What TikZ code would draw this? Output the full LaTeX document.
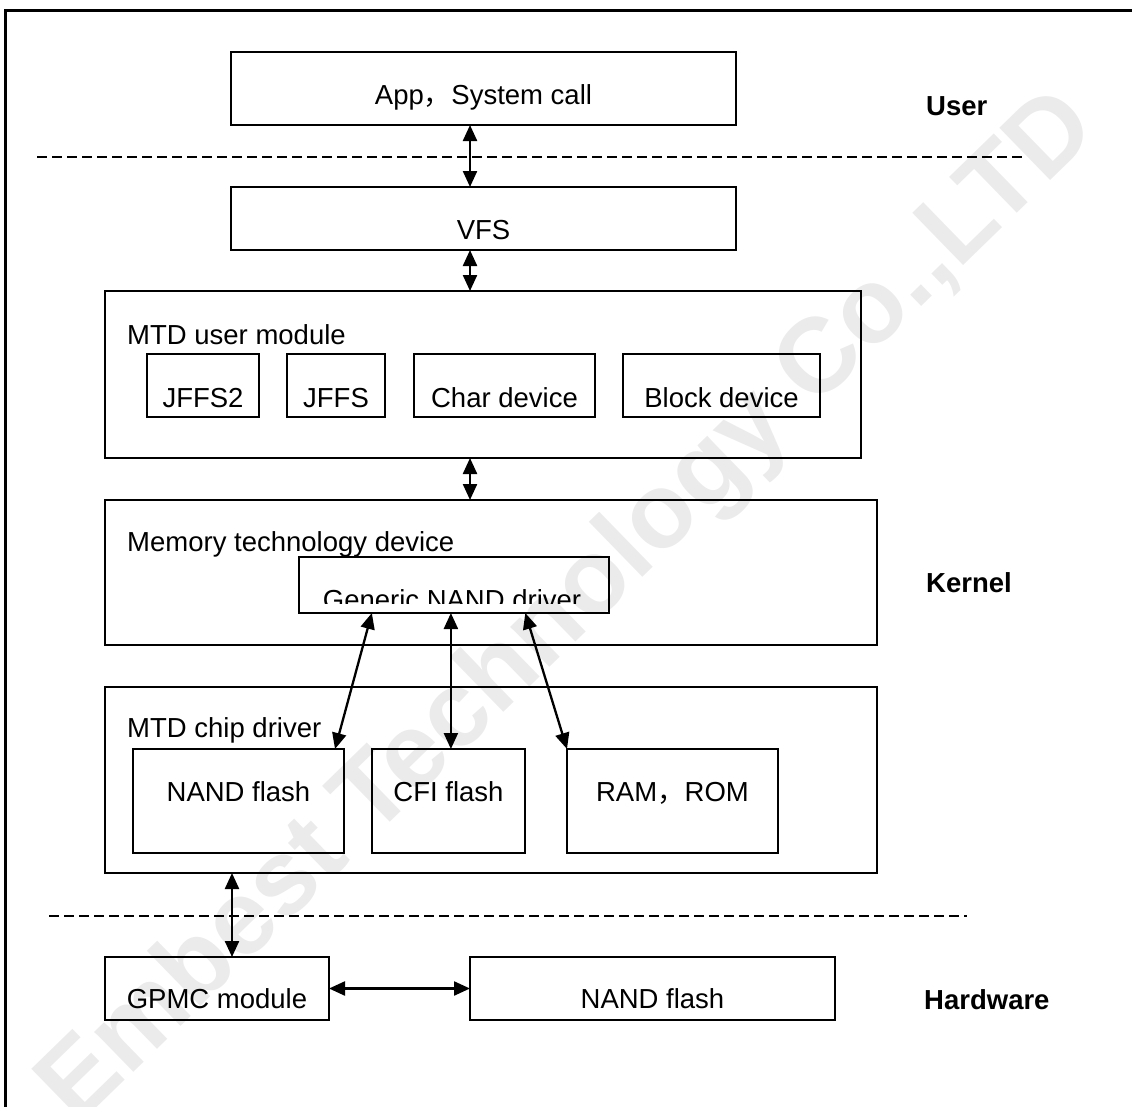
\documentclass[tikz,border=0pt]{standalone}
\usepackage{fontspec}
\setmainfont{Liberation Sans}
\newfontfamily\cjkfont{Noto Sans CJK SC}
\usetikzlibrary{arrows.meta,calc}

\tikzset{
  box/.style={draw, line width=2.2pt, rectangle, inner sep=0pt, outer sep=0pt, anchor=north west},
  lbl/.style={inner sep=0pt, anchor=base, font=\fontsize{27.5}{33}\selectfont},
  lblw/.style={lbl, anchor=base west},
  layer/.style={inner sep=0pt, anchor=base west, font=\fontsize{27.5}{33}\selectfont\bfseries},
  link/.style={line width=2.3pt, {Triangle[length=16pt,width=14pt]}-{Triangle[length=16pt,width=14pt]}},
  sep/.style={line width=2pt, dash pattern=on 10pt off 5pt},
  wmark/.style={inner sep=0pt, text=black!8, font=\fontsize{106}{120}\selectfont\bfseries},
}

\begin{document}
\begin{tikzpicture}[x=1pt,y=-1pt]
\useasboundingbox (0,0) rectangle (1132,1106);

% faint company watermark behind everything
\node[wmark, rotate=44.2] (wm) at (570,610) {Embest Technology Co.,LTD};

% page frame (top and left edges)
\draw[line width=3pt] (1140,10) -- (5,10) -- (5,1115);

% user space
\node[box, minimum width=505pt, minimum height=73pt] (app) at (231,52) {};
\node[lbl] (appT) at (483.5,104) {App{\cjkfont ，}System call};
\node[layer] (userT) at (926,115) {User};

\draw[sep] (37,157) -- (1025,157);

% VFS
\node[box, minimum width=505pt, minimum height=63pt] (vfs) at (231,187) {};
\node[lbl] (vfsT) at (483.5,239) {VFS};

% MTD user module
\node[box, minimum width=756pt, minimum height=167pt] (mtdu) at (105,291) {};
\node[lblw] (mtduT) at (127,344) {MTD user module};
\node[box, minimum width=112pt, minimum height=63pt] (jffs2) at (147,354) {};
\node[box, minimum width=98pt,  minimum height=63pt] (jffs)  at (287,354) {};
\node[box, minimum width=181pt, minimum height=63pt] (chr)   at (414,354) {};
\node[box, minimum width=197pt, minimum height=63pt] (blk)   at (623,354) {};
\node[lbl] (jffs2T) at (203,407) {JFFS2};
\node[lbl] (jffsT)  at (336,407) {JFFS};
\node[lbl] (chrT)   at (504.5,407) {Char device};
\node[lbl] (blkT)   at (721.5,407) {Block device};

% memory technology device
\node[box, minimum width=772pt, minimum height=145pt] (mem) at (105,500) {};
\node[lblw] (memT) at (127,551) {Memory technology device};
\node[box, minimum width=310pt, minimum height=56pt] (gnd) at (299,557) {};
\begin{scope}
  \clip (gnd.north west) rectangle ([yshift=10pt]gnd.south east);
  \node[lbl] (gndT) at (452,609) {Generic NAND driver};
\end{scope}
\node[layer] (kernelT) at (926,592) {Kernel};

% MTD chip driver
\node[box, minimum width=772pt, minimum height=186pt] (chip) at (105,687) {};
\node[lblw] (chipT) at (127,737) {MTD chip driver};
\node[box, minimum width=211pt, minimum height=104pt] (nand) at (133,749) {};
\node[box, minimum width=153pt, minimum height=104pt] (cfi)  at (372,749) {};
\node[box, minimum width=211pt, minimum height=104pt] (ram)  at (567,749) {};
\node[lbl] (nandT) at (238.5,801) {NAND flash};
\node[lbl] (cfiT)  at (448.5,801) {CFI flash};
\node[lbl] (ramT)  at (672.5,801) {RAM{\cjkfont ，}ROM};

\draw[sep] (49,916) -- (967,916);

% hardware
\node[box, minimum width=224pt, minimum height=63pt] (gpmc)   at (105,957) {};
\node[box, minimum width=365pt, minimum height=63pt] (nandhw) at (470,957) {};
\node[lbl] (gpmcT)   at (217,1008) {GPMC module};
\node[lbl] (nandhwT) at (652.5,1008) {NAND flash};
\node[layer] (hwT) at (924,1009) {Hardware};

% connectors
\coordinate (cx) at (470,0);
\coordinate (gx) at (232,0);
\draw[link] (app.south -| cx) -- (vfs.north -| cx);
\draw[link] (vfs.south -| cx) -- (mtdu.north -| cx);
\draw[link] (mtdu.south -| cx) -- (mem.north -| cx);

\coordinate (g1) at ($(gnd.south west)!0.235!(gnd.south east)$);
\coordinate (g2) at ($(gnd.south west)!0.49!(gnd.south east)$);
\coordinate (g3) at ($(gnd.south west)!0.73!(gnd.south east)$);
\draw[link] (g1) -- ([xshift=-9pt]nand.north east);
\draw[link] (g2) -- (g2 |- cfi.north);
\draw[link] (g3) -- (ram.north west);

\draw[link] (chip.south -| gx) -- (gpmc.north -| gx);
\draw[link] (gpmc.east) -- (nandhw.west);
\end{tikzpicture}
\end{document}
